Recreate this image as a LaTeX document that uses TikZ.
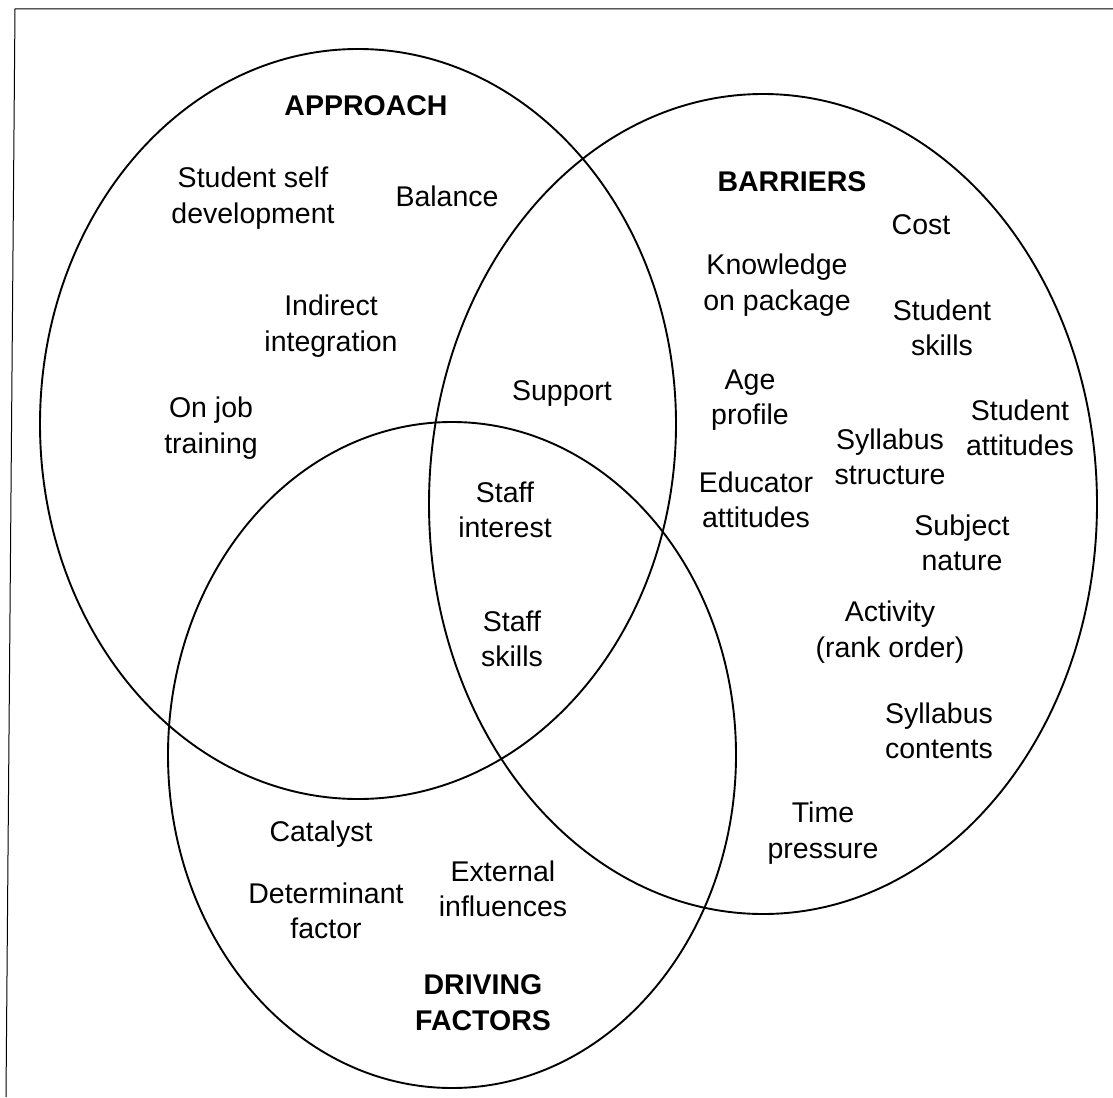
\documentclass[tikz,border=0pt]{standalone}
\usepackage{fontspec}
\setmainfont{Liberation Sans}
\begin{document}
\begin{tikzpicture}[x=1pt,y=-1pt,
  lbl/.style={align=center,inner sep=0pt,font=\fontsize{28.5}{35.5}\selectfont},
  ttl/.style={lbl,font=\fontsize{28.5}{36}\selectfont\bfseries},
  set/.style={draw=black,line width=1.9pt},
  frame/.style={draw=black,line width=1pt}]
\useasboundingbox (0,0) rectangle (1113,1097);
% frame (top and left edges)
\coordinate (fTL) at (15,9);
\coordinate (fTR) at (1113,9);
\coordinate (fBL) at (6,1097);
\draw[frame] (fTR) -- (fTL) -- (fBL);
% sets
\coordinate (cA) at (358,424);
\coordinate (cB) at (763,504);
\coordinate (cD) at (452,755);
\draw[set] (cA) ellipse [x radius=318, y radius=375];
\draw[set] (cB) ellipse [x radius=334, y radius=410];
\draw[set] (cD) ellipse [x radius=284, y radius=333];
% APPROACH
\node[ttl] (tA) at (366,106) {APPROACH};
\node[lbl] (a1) at (253,198) {Student self\\development};
\node[lbl] (a2) at (447,196) {Balance};
\node[lbl] (a3) at (331,326) {Indirect\\integration};
\node[lbl] (a4) at (211,428) {On job\\training};
\node[lbl] (ab1) at (562,394) {Support};
\node[lbl] (abd1) at (505,510) {Staff\\interest};
\node[lbl] (abd2) at (512,639) {Staff\\skills};
% BARRIERS
\node[ttl] (tB) at (792,182) {BARRIERS};
\node[lbl] (b1) at (921,225) {Cost};
\node[lbl] (b2) at (777,285) {Knowledge\\on package};
\node[lbl] (b3) at (942,328) {Student\\skills};
\node[lbl] (b4) at (750,400) {Age\\profile};
\node[lbl] (b5) at (1020,428) {Student\\attitudes};
\node[lbl] (b6) at (890,457) {Syllabus\\structure};
\node[lbl] (b7) at (756,500) {Educator\\attitudes};
\node[lbl] (b8) at (962,543) {Subject\\nature};
\node[lbl] (b9) at (890,632) {Activity\\(rank order)};
\node[lbl] (b10) at (939,731) {Syllabus\\contents};
\node[lbl] (b11) at (823,833) {Time\\pressure};
% DRIVING FACTORS
\node[lbl] (d1) at (321,834) {Catalyst};
\node[lbl] (d2) at (326,911) {Determinant\\factor};
\node[lbl] (bd1) at (503,889) {External\\influences};
\node[ttl] (tD) at (483,1003) {DRIVING\\FACTORS};
\end{tikzpicture}
\end{document}
